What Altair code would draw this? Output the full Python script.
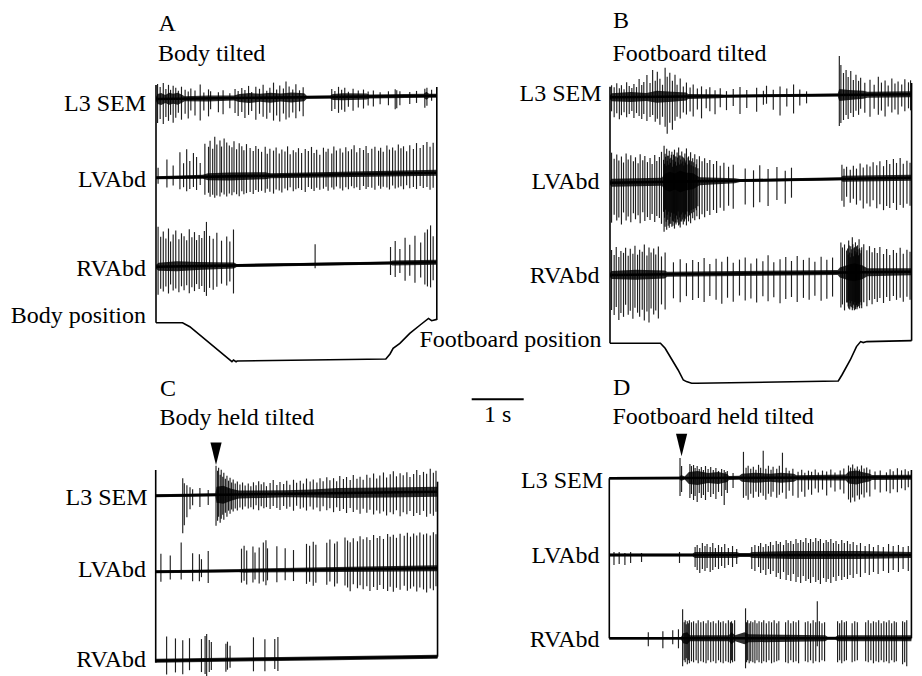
import altair as alt
import pandas as pd

# ------------------------------------------------------------------
# DATA  (spike lists: (time s, upward deflection, downward deflection))
# ------------------------------------------------------------------
A_L3 = [(0.03,15,24),(0.08,12,20),(0.14,16,25),(0.19,10,18),(0.24,14,22),(0.28,9,16),(0.33,13,24),(0.38,11,19),(0.43,8,14),(0.49,12,21),(0.56,9,15),(0.62,7,20),(0.67,10,12),(0.75,8,17),(0.85,14,22),(0.92,6,12),(1.01,9,18),(1.05,7,11),(1.20,6,14),(1.29,8,16),(1.42,5,10),(1.52,9,15),(1.58,7,18),(1.65,10,14),(1.71,8,20),(1.78,12,17),(1.84,6,13),(1.92,11,22),(1.99,9,16),(2.06,13,19),(2.13,7,21),(2.19,10,15),(2.26,15,23),(2.32,8,18),(2.38,12,24),(2.45,9,16),(2.50,16,22),(2.56,11,20),(2.63,8,15),(2.69,13,21),(2.76,7,14),(2.83,10,19),
        (3.38,8,14),(3.44,6,12),(3.51,10,16),(3.57,7,13),(3.63,9,15),(3.70,5,10),(3.79,8,14),(3.89,6,11),(3.99,7,12),(4.08,5,9),(4.18,6,10),(4.31,4,8),(4.47,5,9),(4.60,7,13),(4.63,6,12),(4.69,5,9),(4.88,4,8),(5.01,5,7),(5.17,7,12),(5.21,8,10),(5.30,6,5)]
A_LV = [(0.04,10,6),(0.21,18,10),(0.33,12,8),(0.46,25,12),(0.53,14,10),(0.59,28,14),(0.65,16,12),(0.72,24,10),(0.78,20,13),(0.85,14,8),(0.94,33,18),(1.01,30,16),(1.04,36,20),(1.09,28,18),(1.13,40,21),(1.17,32,19),(1.23,36,20),(1.26,30,16),(1.31,38,18),(1.36,34,20),(1.41,31,17),(1.46,29,19),(1.50,35,16),(1.55,27,18),(1.60,33,20),(1.65,30,15),(1.69,26,18),(1.74,32,17),(1.81,28,16),(1.87,25,18),(1.92,30,14),(1.97,27,16),(2.03,24,15),(2.10,29,17),(2.14,22,13),(2.19,27,16),(2.26,25,18),(2.31,28,14),(2.37,22,15),(2.42,26,17),(2.48,24,13),(2.53,29,15),(2.58,21,12),(2.64,25,16),(2.69,23,14),(2.74,27,13),(2.80,22,15),(2.87,26,17),(2.93,24,12),(2.99,28,14),(3.04,22,16),(3.09,25,13),(3.15,20,15),(3.22,27,14),(3.27,23,12),(3.31,26,16),(3.38,21,13),(3.42,28,15),(3.47,24,12),(3.54,26,14),(3.59,22,16),(3.65,27,13),(3.70,23,15),(3.76,25,12),(3.81,29,14),(3.86,22,13),(3.92,26,16),(3.99,24,12),(4.04,28,15),(4.08,21,13),(4.15,25,14),(4.21,27,16),(4.28,23,12),(4.32,26,15),(4.37,22,13),(4.44,28,14),(4.49,24,16),(4.55,26,12),(4.60,23,15),(4.66,29,14),(4.71,25,13),(4.76,27,16),(4.82,22,12),(4.88,28,15),(4.95,24,14),(5.01,30,16),(5.08,25,13),(5.14,28,15),(5.21,31,14),(5.27,26,17),(5.33,30,15)]
A_RV = [(0.04,40,28),(0.09,30,22),(0.14,35,25),(0.19,28,20),(0.24,38,27),(0.28,25,18),(0.33,32,24),(0.38,36,22),(0.44,27,26),(0.49,33,20),(0.54,30,24),(0.59,26,19),(0.64,37,27),(0.69,29,21),(0.74,34,25),(0.78,26,18),(0.83,31,23),(0.88,28,20),(0.93,35,26),(0.97,44,30),(1.03,30,22),(1.10,27,24),(1.17,33,21),(1.26,25,18),(1.36,29,20),(1.42,24,16),(1.49,36,28),
        (3.06,20,4),(4.51,16,12),(4.60,22,14),(4.69,14,10),(4.79,25,18),(4.88,18,13),(4.98,27,20),(5.09,20,15),(5.17,30,22),(5.22,33,24),(5.28,37,25),(5.33,26,18)]

B_L3 = [(0.03,12,14),(0.08,10,20),(0.13,14,16),(0.18,9,22),(0.22,12,18),(0.27,8,15),(0.32,15,20),(0.37,11,17),(0.42,9,14),(0.46,13,21),(0.51,10,16),(0.56,18,19),(0.61,12,22),(0.65,15,17),(0.71,22,24),(0.77,14,20),(0.82,27,18),(0.87,16,25),(0.91,25,22),(0.96,18,28),(1.01,12,20),(1.06,29,30),(1.10,20,37),(1.15,24,26),(1.20,16,33),(1.25,22,24),(1.29,12,20),(1.35,18,22),(1.41,10,16),(1.47,14,18),(1.54,9,15),(1.60,12,20),(1.68,8,13),(1.76,10,22),(1.85,7,12),(1.92,9,15),(2.02,6,18),(2.12,8,11),(2.24,5,14),(2.37,7,10),(2.50,9,18),(2.63,6,12),(2.82,8,16),(2.95,5,9),(3.01,10,8),(3.14,6,14),(3.27,9,20),(3.40,7,11),(3.53,11,18),(3.65,6,10),(3.78,4,8),
        (4.41,39,31),(4.44,30,28),(4.49,22,25),(4.54,25,20),(4.58,18,24),(4.63,24,18),(4.68,15,22),(4.73,20,16),(4.78,14,20),(4.82,17,14),(4.90,12,18),(5.00,15,22),(5.08,10,14),(5.16,18,20),(5.22,12,16),(5.29,14,22),(5.35,9,12),(5.42,16,18),(5.48,11,15),(5.54,13,20),(5.61,10,12),(5.67,15,17),(5.74,12,14),(5.78,14,16)]
B_LV = [(0.03,30,40),(0.08,24,32),(0.13,28,38),(0.17,22,35),(0.22,26,42),(0.26,20,30),(0.31,29,38),(0.35,23,34),(0.40,27,40),(0.45,21,31),(0.49,25,37),(0.54,19,33),(0.58,28,41),(0.63,22,30),(0.67,26,39),(0.72,20,35),(0.77,24,38),(0.81,18,32),(0.86,27,40),(0.90,21,34),(0.95,25,36),(0.99,30,42),(1.04,36,50),(1.06,28,45),(1.09,33,48),(1.12,26,44),(1.14,31,46),(1.17,24,42),(1.19,30,45),(1.22,27,40),(1.24,32,47),(1.27,25,43),(1.29,29,41),(1.32,34,44),(1.35,26,46),(1.38,30,40),(1.41,24,43),(1.44,28,38),(1.47,33,44),(1.51,25,40),(1.55,29,42),(1.59,23,37),(1.63,27,39),(1.67,22,35),(1.72,25,38),(1.77,20,33),(1.82,23,36),(1.87,18,30),(1.92,21,34),(1.99,17,29),(2.05,20,32),(2.12,15,27),(2.19,18,30),(2.28,14,25),(2.37,16,28),(2.60,12,24),(2.76,10,27),(2.88,15,22),(3.04,11,26),(3.21,13,20),(3.37,9,24),(3.49,12,18),
        (4.46,14,22),(4.50,10,28),(4.55,12,18),(4.62,9,24),(4.68,13,20),(4.74,10,26),(4.81,15,22),(4.87,11,30),(4.94,14,25),(5.00,12,28),(5.06,16,22),(5.13,13,30),(5.19,17,26),(5.26,12,32),(5.32,18,28),(5.38,14,30),(5.45,19,25),(5.51,15,32),(5.58,20,27),(5.64,14,30),(5.71,17,26),(5.77,15,28)]
# extra closely packed discharges inside the dense LVAbd burst of panel B
B_LV_BURST = [(1.03,22,30),(1.05,18,36),(1.07,25,28),(1.08,16,40),(1.10,21,33),(1.11,26,38),(1.13,17,30),(1.15,23,42),(1.16,19,35),(1.18,27,31),(1.20,15,39),(1.21,22,44),(1.23,18,32),(1.25,25,37),(1.26,20,41),(1.28,16,34),(1.30,24,38),(1.31,19,30),(1.33,26,43),(1.34,17,36),(1.36,22,40),(1.37,18,33),(1.39,25,38),(1.40,20,31),(1.42,16,36),(1.43,23,40),(1.45,19,33),(1.46,21,37),(1.48,17,30),(1.50,24,35),(1.52,18,31),(1.53,21,34),(1.56,16,29),(1.57,20,32),(1.60,15,28),(1.61,19,31),(1.64,14,27),(1.66,17,29),(1.69,13,25)]
B_RV = [(0.03,25,35),(0.08,20,40),(0.12,28,32),(0.17,18,45),(0.21,24,38),(0.26,22,42),(0.30,27,30),(0.35,19,40),(0.39,26,36),(0.44,21,44),(0.48,29,33),(0.53,20,38),(0.57,25,42),(0.62,23,35),(0.66,30,46),(0.71,19,37),(0.75,27,48),(0.79,22,34),(0.84,26,40),(0.88,20,36),(0.93,28,44),(0.99,18,30),(1.06,22,35),(1.22,12,24),(1.35,15,28),(1.47,11,22),(1.59,14,26),(1.70,12,24),(1.81,16,28),(1.92,10,22),(2.04,15,26),(2.15,12,30),(2.26,17,24),(2.37,11,28),(2.49,14,22),(2.60,16,27),(2.71,10,25),(2.82,15,29),(2.94,12,23),(3.04,18,28),(3.15,11,24),(3.27,14,30),(3.38,16,26),(3.49,12,24),(3.60,17,29),(3.72,13,25),(3.83,15,27),(3.94,11,23),(4.06,16,28),(4.17,13,26),(4.28,15,24),
        (4.44,30,35),(4.47,25,32),(4.51,28,38),(4.55,22,30),(4.59,32,36),(4.63,26,34),(4.66,35,38),(4.69,24,33),(4.72,30,37),(4.76,27,35),(4.79,33,32),(4.84,25,36),(4.88,28,30),(4.94,22,34),(4.99,26,28),(5.04,20,32),(5.09,24,27),(5.14,19,30),(5.19,25,26),(5.26,18,31),(5.32,23,25),(5.38,17,29),(5.45,22,24),(5.51,19,28),(5.58,24,26),(5.64,18,30),(5.71,22,25),(5.77,20,28)]
B_RV_BURST = [(4.57,24,30),(4.58,18,34),(4.60,27,28),(4.61,20,37),(4.62,15,31),(4.64,23,35),(4.65,19,29),(4.67,28,36),(4.68,16,32),(4.70,25,38),(4.71,21,30),(4.73,18,35),(4.74,26,33),(4.75,20,37),(4.77,23,31),(4.78,17,34),(4.80,24,36),(4.81,19,30),(4.83,22,33)]

C_L3 = [(0.52,17,38),(0.55,12,30),(0.60,10,22),(0.66,8,14),(0.71,6,10),(0.85,7,12),(1.01,5,10),
        (1.16,29,31),(1.19,24,26),(1.21,27,22),(1.24,20,28),(1.26,25,24),(1.29,18,20),(1.31,22,25),(1.34,16,18),(1.37,19,22),(1.40,14,16),(1.43,17,19),(1.46,12,15),(1.49,15,17),(1.53,11,14),(1.57,13,16),(1.62,10,13),(1.67,12,15),(1.72,9,12),(1.78,11,14),(1.83,8,13),(1.88,12,15),(1.93,9,11),(1.98,13,16),(2.03,10,12),(2.08,12,14),(2.13,8,13),(2.20,11,15),(2.26,14,12),(2.33,9,14),(2.39,12,16),(2.46,10,12),(2.52,13,15),(2.58,9,13),(2.65,14,17),(2.71,11,12),(2.78,13,15),(2.84,10,14),(2.90,15,17),(2.97,12,13),(3.03,14,16),(3.10,11,14),(3.16,15,18),(3.22,12,13),(3.29,16,17),(3.35,13,15),(3.42,15,19),(3.48,12,14),(3.54,17,18),(3.61,14,16),(3.67,16,20),(3.74,13,15),(3.80,18,19),(3.87,14,17),(3.93,16,21),(3.99,13,16),(4.06,18,20),(4.12,15,17),(4.19,19,22),(4.25,14,18),(4.31,17,21),(4.38,20,19),(4.44,15,23),(4.51,18,20),(4.57,21,22),(4.63,16,18),(4.70,19,24),(4.76,17,20),(4.83,20,22),(4.89,15,19),(4.96,18,24),(5.02,22,21),(5.08,17,23),(5.15,20,19),(5.21,18,25),(5.28,23,22),(5.34,19,24),(5.39,21,20)]
C_LV = [(0.10,18,10),(0.28,16,8),(0.49,29,8),(0.71,18,10),(0.84,17,10),(0.88,12,6),(1.01,20,12),
        (1.65,22,12),(1.70,25,10),(1.75,20,14),(1.87,24,12),(1.91,18,9),(1.99,23,13),(2.07,28,11),(2.12,30,15),(2.15,22,10),(2.33,24,12),(2.49,22,10),(2.65,20,11),(2.90,26,14),(2.96,24,12),(3.03,28,16),(3.08,25,13),(3.29,27,15),(3.35,30,12),(3.44,26,17),(3.49,28,14),(3.64,32,16),(3.69,29,18),(3.74,27,22),(3.80,31,15),(3.88,28,19),(3.93,33,16),(3.99,30,20),(4.06,32,17),(4.12,29,22),(4.19,34,18),(4.26,31,21),(4.31,33,16),(4.38,30,20),(4.46,35,22),(4.51,32,18),(4.57,34,23),(4.63,31,19),(4.70,35,21),(4.78,33,17),(4.84,36,22),(4.90,32,20),(4.96,35,18),(5.02,33,23),(5.08,36,19),(5.15,34,21),(5.21,35,24),(5.28,33,20),(5.34,36,22),(5.39,34,18)]
C_RV = [(0.21,24,14),(0.38,22,12),(0.52,20,14),(0.65,22,10),(0.88,21,12),(0.95,24,14),(0.98,26,16),(1.03,20,12),(1.07,18,10),(1.35,16,12),(1.38,18,10),(1.43,14,8),(1.88,22,12),(2.10,20,12),(2.29,20,10),(2.35,22,12)]

D_L3 = [(1.36,20,18),(1.39,12,14),(1.55,14,20),(1.58,12,16),(1.62,13,22),(1.65,10,18),(1.69,12,24),(1.73,9,15),(1.77,11,20),(1.81,8,17),(1.85,12,22),(1.90,9,14),(1.95,11,19),(2.00,8,16),(2.05,10,21),(2.10,7,14),(2.16,9,18),(2.21,8,27),(2.24,6,12),(2.27,7,15),(2.38,5,10),(2.58,26,20),(2.63,10,18),(2.67,12,22),(2.72,9,16),(2.77,11,20),(2.82,8,14),(2.87,13,19),(2.91,10,15),(2.96,27,18),(3.01,9,22),(3.06,12,16),(3.11,8,19),(3.15,11,14),(3.22,9,20),(3.27,12,17),(3.33,25,15),(3.40,10,21),(3.46,7,13),(3.53,9,18),(3.63,6,20),(3.70,8,14),(3.76,5,19),(3.83,7,12),(3.89,6,17),(3.96,8,11),(4.02,5,15),(4.10,7,12),(4.18,6,18),(4.26,8,10),(4.34,5,14),(4.44,7,12),(4.51,9,16),(4.60,12,22),(4.64,10,25),(4.68,13,20),(4.72,9,24),(4.77,11,18),(4.81,8,22),(4.85,12,17),(4.90,9,20),(4.95,10,15),(5.01,8,19),(5.11,6,12),(5.21,7,15),(5.33,5,14),(5.40,8,16),(5.46,6,12),(5.54,9,15),(5.62,7,11),(5.69,8,13),(5.75,6,10)]
D_LV = [(0.09,3,10),(0.19,3,9),(0.30,2,10),(0.41,3,8),(0.62,2,7),(1.35,3,8),
        (1.65,8,12),(1.69,10,15),(1.74,7,18),(1.79,12,14),(1.84,9,16),(1.88,11,13),(1.94,8,17),(1.99,12,15),(2.04,7,12),(2.10,10,14),(2.16,8,11),(2.22,11,13),(2.29,7,10),(2.37,9,12),(2.45,6,9),(2.74,8,14),(2.80,10,16),(2.87,9,12),(2.91,12,18),(2.96,8,15),(3.01,11,20),(3.06,9,14),(3.10,13,19),(3.15,10,16),(3.21,14,22),(3.25,11,18),(3.29,13,24),(3.35,10,17),(3.40,15,25),(3.44,12,20),(3.49,14,26),(3.54,11,19),(3.59,16,27),(3.63,12,22),(3.68,15,28),(3.73,13,21),(3.78,17,26),(3.83,12,24),(3.87,16,28),(3.92,13,22),(3.97,17,27),(4.02,14,25),(4.06,16,29),(4.12,12,23),(4.17,15,27),(4.21,13,24),(4.26,16,28),(4.31,12,22),(4.36,14,26),(4.41,11,21),(4.47,15,25),(4.52,12,22),(4.58,14,24),(4.63,11,20),(4.69,13,23),(4.76,10,19),(4.83,12,22),(4.92,9,18),(5.00,11,20),(5.08,8,17),(5.17,10,19),(5.27,8,16),(5.37,11,18),(5.46,9,15),(5.56,10,17),(5.65,8,14),(5.75,9,16)]
D_RV = [(0.75,6,8),(1.03,7,10),(1.22,8,6),(1.33,9,10),
        (1.41,29,28),(1.44,16,22),(1.46,18,24),(1.48,14,20),(1.50,17,26),(1.52,15,22),(1.54,18,25),(1.58,16,23),(1.62,17,24),(1.67,15,22),(1.71,18,25),(1.76,16,23),(1.81,17,24),(1.86,15,25),(1.90,18,22),(1.95,16,24),(2.00,17,23),(2.05,15,25),(2.10,18,22),(2.14,16,24),(2.19,17,25),(2.24,15,23),(2.29,18,24),(2.33,16,25),(2.35,17,22),(2.37,15,24),(2.41,18,23),
        (2.62,30,30),(2.64,16,24),(2.66,18,22),(2.69,15,25),(2.72,17,23),(2.76,16,24),(2.80,18,25),(2.84,15,22),(2.88,17,24),(2.93,16,25),(2.97,18,23),(3.02,15,24),(3.07,17,22),(3.12,16,25),(3.17,18,24),(3.22,15,23),(3.26,17,22),
        (3.39,16,24),(3.44,18,25),(3.49,15,22),(3.54,17,24),(3.59,16,23),(3.64,18,25),
        (3.77,16,23),(3.82,17,24),(3.87,15,22),(3.92,18,25),(3.97,16,23),(4.00,37,8),(4.04,17,24),(4.09,15,22),(4.14,16,23),
        (4.39,17,24),(4.43,15,22),(4.47,18,25),(4.52,16,23),(4.56,17,22),
        (4.67,15,24),(4.72,17,23),(4.77,16,22),
        (4.93,16,23),(4.98,18,24),(5.03,15,22),(5.08,17,25),(5.13,16,23),(5.18,18,24),(5.23,15,22),(5.28,17,24),(5.33,16,23),(5.38,18,25),(5.43,15,22),(5.48,17,24),(5.52,16,23),
        (5.64,17,26),(5.68,16,24),(5.72,18,28)]

# background noise half-width along each trace: (time s, half-width)
A_L3_NOISE = [(0,2),(0.03,5),(0.1,6),(0.18,4),(0.25,6),(0.33,5),(0.42,6),(0.5,4),(0.55,2.5),(1.0,3),(1.5,2.5),(1.6,4),(1.8,5),(2.0,4),(2.2,5),(2.4,4),(2.6,5),(2.85,4),(2.9,1.5),(3.35,1.5),(3.4,3),(3.6,3.5),(4.05,3),(4.1,2),(5.15,2),(5.2,4),(5.25,2),(5.4,2)]
A_LV_NOISE = [(0,1.5),(0.9,2),(1.0,3.5),(1.4,4),(2.1,3.5),(2.2,2.5),(5.4,3)]
A_RV_NOISE = [(0,2),(0.05,4),(0.4,5),(0.8,4),(1.5,3),(1.55,1.5),(4.5,1.5),(4.55,2.5),(5.4,2.5)]
B_L3_NOISE = [(0,2),(0.03,4),(0.4,5),(0.7,4),(0.9,6),(1.2,5),(1.47,4),(1.5,2.5),(2.1,2),(2.2,1.5),(4.38,1.5),(4.41,6),(4.6,5),(4.87,4),(4.95,3),(5.8,3)]
B_LV_NOISE = [(0,2),(0.03,4),(1.0,4),(1.05,8),(1.15,10),(1.25,8),(1.35,11),(1.45,9),(1.6,8),(1.72,4),(2.4,2.5),(2.5,1.5),(4.45,1.5),(4.47,3),(5.8,3)]
B_RV_NOISE = [(0,2),(0.03,4),(0.5,5),(1.05,4),(1.1,2.5),(4.38,2.5),(4.42,5),(4.6,8),(4.7,9),(4.85,7),(4.95,4),(5.8,3.5)]
C_L3_NOISE = [(0,1.5),(1.15,1.5),(1.17,8),(1.3,9),(1.45,6),(1.6,4),(2.5,3.5),(3.0,4),(3.5,5),(4.5,5),(5.42,5)]
C_LV_NOISE = [(0,1.5),(1.6,1.5),(1.7,2),(3.5,2.5),(5.42,3)]
C_RV_NOISE = [(0,2),(2.4,2),(5.42,2)]
D_L3_NOISE = [(0,1.2),(1.35,1.2),(1.38,3),(1.45,1.5),(1.53,6),(1.7,7),(1.9,5),(2.1,6),(2.27,4),(2.3,2),(2.5,2),(2.55,4),(2.8,5),(3.1,4),(3.3,5),(3.55,4),(3.6,2.5),(4.55,3),(4.6,6),(4.75,7),(4.9,5),(5.0,4),(5.05,2.5),(5.81,2.5)]
D_LV_NOISE = [(0,1.5),(1.6,1.5),(1.65,3),(2.45,3),(2.5,2),(2.7,2),(2.75,3),(3.5,4),(4.8,4),(5.81,3)]
D_RV_NOISE = [(0,1.2),(1.38,1.2),(1.42,5),(1.5,6),(1.55,3),(2.3,3),(2.35,6),(2.42,3),(2.6,6),(2.68,4),(4.15,3),(4.2,1.5),(4.35,1.5),(4.4,3),(5.81,3)]

# position monitors: (time s, downward deflection)
A_POSITION = [(0,0),(0.51,0),(0.65,4),(1.46,39),(1.49,37.3),(1.54,39),(1.56,38.3),(4.42,36.3),(4.50,31.3),(4.56,25.7),(4.69,20.7),(4.88,10.7),(5.08,2.3),(5.24,-4.3),(5.30,-2),(5.40,-3.3)]
B_POSITION = [(0,0),(0.97,0),(1.06,5),(1.31,26.7),(1.41,36.7),(1.47,38.3),(1.57,40),(1.67,40),(4.39,37.7),(4.46,31.7),(4.62,16.7),(4.74,3.3),(4.82,-1.7),(4.87,-0.7),(4.94,-1.7),(5.80,-2.7)]

STIM_ONSET = {"C": 1.16, "D": 1.39}   # arrowheads (s)
SCALE_BAR = 1.0                       # s

TRACE_NAMES = ["L3 SEM", "LVAbd", "RVAbd"]
PANEL_LETTERS = ["A", "B", "C", "D"]
PANEL_TITLES = ["Body tilted", "Footboard tilted", "Body held tilted", "Footboard held tilted"]
POSITION_NAMES = ["Body position", "Footboard position"]

# ------------------------------------------------------------------
# LAYOUT (pixels of the 922 x 676 figure)
# ------------------------------------------------------------------
W, H = 922, 676
PX_PER_S = 52.0
PANEL = {"A": dict(x0=156.0, T=5.40), "B": dict(x0=610.0, T=5.80),
         "C": dict(x0=155.7, T=5.42), "D": dict(x0=609.3, T=5.81)}
BASE = {
    ("A", "L3 SEM"): (99.0, 95.7), ("A", "LVAbd"): (177.7, 172.7), ("A", "RVAbd"): (266.7, 262.3),
    ("B", "L3 SEM"): (97.3, 94.3), ("B", "LVAbd"): (182.7, 177.7), ("B", "RVAbd"): (275.0, 271.7),
    ("C", "L3 SEM"): (495.7, 491.7), ("C", "LVAbd"): (571.7, 568.3), ("C", "RVAbd"): (660.7, 656.7),
    ("D", "L3 SEM"): (478.3, 477.3), ("D", "LVAbd"): (555.0, 555.0), ("D", "RVAbd"): (638.3, 638.3),
}
SPIKES = {("A","L3 SEM"):A_L3, ("A","LVAbd"):A_LV, ("A","RVAbd"):A_RV,
          ("B","L3 SEM"):B_L3, ("B","LVAbd"):B_LV + B_LV_BURST, ("B","RVAbd"):B_RV + B_RV_BURST,
          ("C","L3 SEM"):C_L3, ("C","LVAbd"):C_LV, ("C","RVAbd"):C_RV,
          ("D","L3 SEM"):D_L3, ("D","LVAbd"):D_LV, ("D","RVAbd"):D_RV}
NOISE = {("A","L3 SEM"):A_L3_NOISE, ("A","LVAbd"):A_LV_NOISE, ("A","RVAbd"):A_RV_NOISE,
         ("B","L3 SEM"):B_L3_NOISE, ("B","LVAbd"):B_LV_NOISE, ("B","RVAbd"):B_RV_NOISE,
         ("C","L3 SEM"):C_L3_NOISE, ("C","LVAbd"):C_LV_NOISE, ("C","RVAbd"):C_RV_NOISE,
         ("D","L3 SEM"):D_L3_NOISE, ("D","LVAbd"):D_LV_NOISE, ("D","RVAbd"):D_RV_NOISE}
POS_BASE = {"A": 322.7, "B": 343.3}
FRAME = {"A": ((85, 322.7), (87, 320)), "B": ((86.7, 343.3), (83, 340.7)),
         "C": ((470, 662.7), (481.7, 656.7)), "D": ((478.3, 638.3), (470, 638.3))}
ARROW_Y = {"C": 453.8, "D": 445.0}
LABEL_POS = {  # (right x, baseline y)
    ("A", "L3 SEM"): (146, 111), ("A", "LVAbd"): (146, 186.7), ("A", "RVAbd"): (146, 276), ("A", "pos"): (146, 322.7),
    ("B", "L3 SEM"): (601.5, 101), ("B", "LVAbd"): (599.5, 189.3), ("B", "RVAbd"): (599.5, 282.7), ("B", "pos"): (601.5, 346.7),
    ("C", "L3 SEM"): (147.5, 505), ("C", "LVAbd"): (146, 577.3), ("C", "RVAbd"): (146, 667.3),
    ("D", "L3 SEM"): (603, 488.3), ("D", "LVAbd"): (599.5, 562.7), ("D", "RVAbd"): (599.5, 646.7),
}
HEAD_POS = {"A": (158.5, 30.7, 61), "B": (613, 28.3, 61), "C": (160, 396, 425), "D": (613, 395, 424)}
BAR_X0, BAR_Y = 471.7, 399.3
FONT = "Liberation Serif"
FS = 24


def fx(p, t):
    return PANEL[p]["x0"] + t * PX_PER_S


def base_y(p, name, t):
    y0, y1 = BASE[(p, name)]
    return y0 + (y1 - y0) * t / PANEL[p]["T"]


spike_rows, noise_rows, line_rows = [], [], []
for (p, name), lst in SPIKES.items():
    for t, up, dn in lst:
        b = base_y(p, name, t)
        spike_rows.append(dict(x=fx(p, t), y=b - up, y2=b + dn))
for (p, name), lst in NOISE.items():
    for t, hw in lst:
        b = base_y(p, name, t)
        noise_rows.append(dict(key=p + name, x=fx(p, t), y=b - hw, y2=b + hw))
    for t in (0.0, PANEL[p]["T"]):
        line_rows.append(dict(key=p + name, x=fx(p, t), y=base_y(p, name, t)))

pos_rows = []
for p, lst in (("A", A_POSITION), ("B", B_POSITION)):
    for i, (t, d) in enumerate(lst):
        pos_rows.append(dict(key=p, i=i, x=fx(p, t), y=POS_BASE[p] + d))

frame_rows = []
for p in PANEL_LETTERS:
    (l0, l1), (r0, r1) = FRAME[p]
    frame_rows.append(dict(x=fx(p, 0), y=l0, y2=l1))
    frame_rows.append(dict(x=fx(p, PANEL[p]["T"]), y=r0, y2=r1))

arrow_rows = [dict(x=fx(p, t), y=ARROW_Y[p]) for p, t in STIM_ONSET.items()]
bar_rows = [dict(x=BAR_X0, x2=BAR_X0 + SCALE_BAR * PX_PER_S, y=BAR_Y)]

right_text, left_text = [], []
for (p, name), (x, y) in LABEL_POS.items():
    txt = name if name != "pos" else POSITION_NAMES[0 if p == "A" else 1]
    right_text.append(dict(x=x, y=y, text=txt))
for i, p in enumerate(PANEL_LETTERS):
    x, y1, y2 = HEAD_POS[p]
    left_text.append(dict(x=x, y=y1, text=p))
    left_text.append(dict(x=x - 0.5, y=y2, text=PANEL_TITLES[i]))
center_text = [dict(x=BAR_X0 + SCALE_BAR * PX_PER_S / 2, y=421.7, text="1 s")]

XS = alt.Scale(domain=[0, W], range=[0, W], nice=False, zero=False)
YS = alt.Scale(domain=[0, H], range=[0, H], nice=False, zero=False)
X = alt.X("x:Q", scale=XS, axis=None)
Y = alt.Y("y:Q", scale=YS, axis=None)

noise = alt.Chart(pd.DataFrame(noise_rows)).mark_area(color="#0a0a0a", opacity=0.85).encode(
    x=X, y=Y, y2="y2:Q", detail="key:N")
baseline = alt.Chart(pd.DataFrame(line_rows)).mark_line(color="#000", strokeWidth=2.6).encode(
    x=X, y=Y, detail="key:N")
spikes = alt.Chart(pd.DataFrame(spike_rows)).mark_rule(color="#000", strokeWidth=1.15, opacity=0.88).encode(
    x=X, y=Y, y2="y2:Q")
frames = alt.Chart(pd.DataFrame(frame_rows)).mark_rule(color="#000", strokeWidth=1.6).encode(
    x=X, y=Y, y2="y2:Q")
position = alt.Chart(pd.DataFrame(pos_rows)).mark_line(color="#000", strokeWidth=1.6).encode(
    x=X, y=Y, detail="key:N", order="i:Q")
arrows = alt.Chart(pd.DataFrame(arrow_rows)).mark_point(
    shape="M-0.5,-1L0.5,-1L0,1Z", filled=True, size=500, color="#000", opacity=1, strokeWidth=0).encode(x=X, y=Y)
bar = alt.Chart(pd.DataFrame(bar_rows)).mark_rule(color="#000", strokeWidth=2).encode(x=X, x2="x2:Q", y=Y)
t_right = alt.Chart(pd.DataFrame(right_text)).mark_text(
    align="right", baseline="alphabetic", font=FONT, fontSize=FS, color="#000").encode(x=X, y=Y, text="text:N")
t_left = alt.Chart(pd.DataFrame(left_text)).mark_text(
    align="left", baseline="alphabetic", font=FONT, fontSize=FS, color="#000").encode(x=X, y=Y, text="text:N")
t_center = alt.Chart(pd.DataFrame(center_text)).mark_text(
    align="center", baseline="alphabetic", font=FONT, fontSize=FS, color="#000").encode(x=X, y=Y, text="text:N")

chart = alt.layer(noise, baseline, spikes, frames, position, arrows, bar, t_right, t_left, t_center).properties(
    width=W, height=H, autosize=alt.AutoSizeParams(type="none"), padding=0, background="white"
).configure_view(stroke=None)

chart.save("out.html", embed_options={"renderer": "svg", "actions": False})
